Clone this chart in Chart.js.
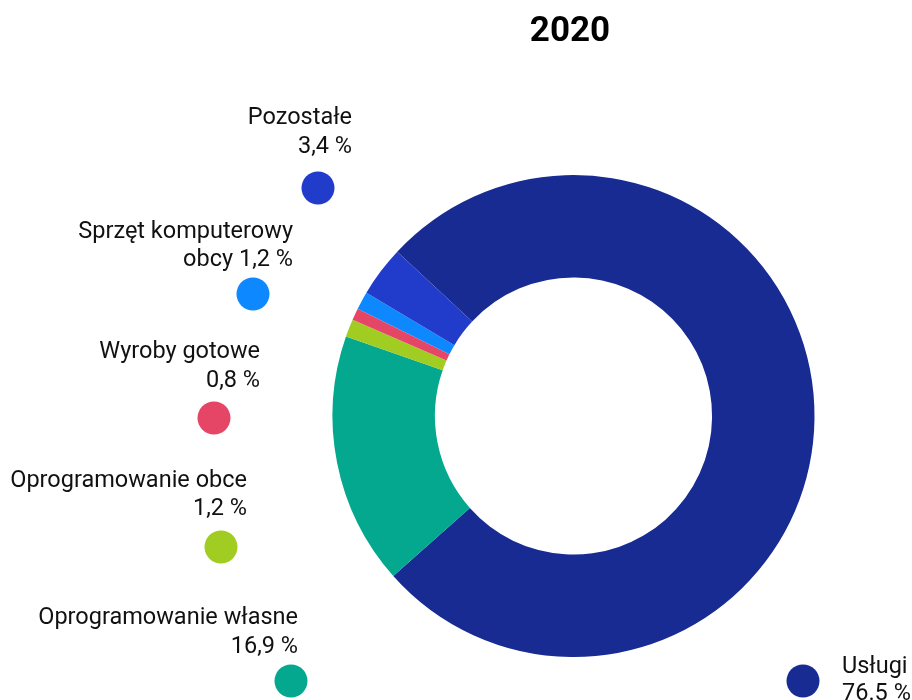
<!DOCTYPE html>
<html lang="pl">
<head>
<meta charset="utf-8">
<title>2020</title>
<script src="https://cdn.jsdelivr.net/npm/chart.js@4/dist/chart.umd.min.js"></script>
<style>
  html, body { margin: 0; padding: 0; background: #fff; }
  #wrap { width: 912px; height: 700px; }
</style>
</head>
<body>
<div id="wrap"><canvas id="shareChart" width="912" height="700"></canvas></div>
<script>
/* ---- data ---- */
var categories = ['Usługi', 'Oprogramowanie własne', 'Oprogramowanie obce',
                  'Wyroby gotowe', 'Sprzęt komputerowy obcy', 'Pozostałe'];
var shares     = [76.5, 16.9, 1.2, 0.8, 1.2, 3.4];
var shareText  = ['76.5 %', '16,9 %', '1,2 %', '0,8 %', '1,2 %', '3,4 %'];
var sliceColors = ['#172b93', '#03a88f', '#a1cd22', '#e64666', '#0e88ff', '#213bcb'];
var chartTitle = '2020';

/* ---- label layout (circle centre, text anchor) ---- */
var labelFont = '23.5px Roboto, "Noto Sans", sans-serif';
var labelLayout = [
  { dot: [803, 681], x: 842, lines: [[categories[0], 673], [shareText[0], 700]], align: 'left' },
  { dot: [291, 681], x: 298, lines: [[categories[1], 624], [shareText[1], 653]], align: 'right' },
  { dot: [221, 547], x: 247, lines: [[categories[2], 487], [shareText[2], 515]], align: 'right' },
  { dot: [214, 418], x: 260, lines: [[categories[3], 358], [shareText[3], 387]], align: 'right' },
  { dot: [253, 294], x: 293, lines: [['Sprzęt komputerowy', 238], ['obcy ' + shareText[4], 266]], align: 'right' },
  { dot: [318, 188], x: 352, lines: [[categories[5], 124], [shareText[5], 153]], align: 'right' }
];

var sideLabels = {
  id: 'sideLabels',
  afterDraw: function (chart) {
    var ctx = chart.ctx;
    var colors = chart.data.datasets[0].backgroundColor;
    ctx.save();

    /* title */
    ctx.fillStyle = '#000';
    ctx.font = 'bold 35px Roboto, "Noto Sans", sans-serif';
    ctx.textAlign = 'center';
    ctx.textBaseline = 'alphabetic';
    ctx.fillText(chartTitle, 570, 41);

    /* dots + labels */
    ctx.font = labelFont;
    labelLayout.forEach(function (l, i) {
      ctx.beginPath();
      ctx.arc(l.dot[0], l.dot[1], 16.5, 0, Math.PI * 2);
      ctx.fillStyle = colors[i];
      ctx.fill();
      ctx.fillStyle = '#111';
      ctx.textAlign = l.align;
      l.lines.forEach(function (ln) {
        ctx.fillText(ln[0], l.x, ln[1]);
      });
    });
    ctx.restore();
  }
};

document.addEventListener('DOMContentLoaded', function () {
  var ctx = document.getElementById('shareChart').getContext('2d');
  new Chart(ctx, {
    type: 'doughnut',
    data: {
      labels: categories,
      datasets: [{
        data: shares,
        backgroundColor: sliceColors,
        borderWidth: 0,
        hoverOffset: 0
      }]
    },
    options: {
      responsive: false,
      animation: false,
      cutout: '57.5%',
      rotation: -47,
      layout: {
        padding: { top: 175, bottom: 43, left: 332.5, right: 97.5 }
      },
      plugins: {
        legend: { display: false },
        title: { display: false },
        tooltip: { enabled: false }
      }
    },
    plugins: [sideLabels]
  });
});
</script>
</body>
</html>
